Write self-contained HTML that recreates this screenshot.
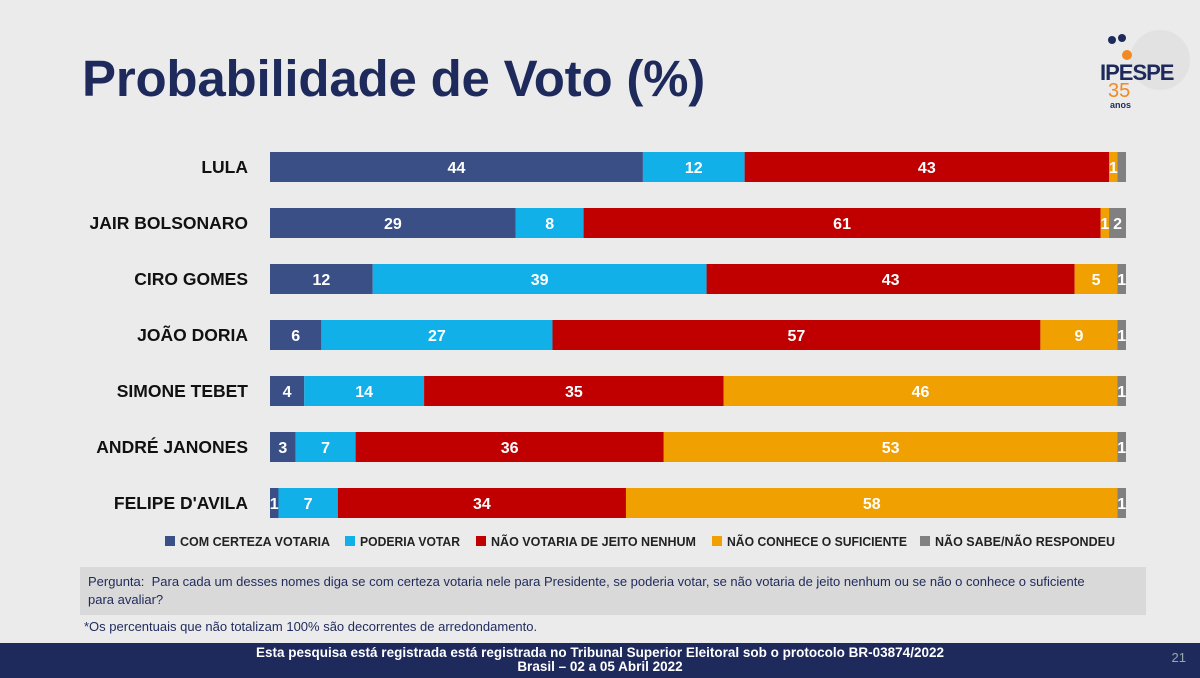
<!DOCTYPE html>
<html><head><meta charset="utf-8">
<style>
body{margin:0;width:1200px;height:675px;background:#ebebeb;font-family:"Liberation Sans",sans-serif;overflow:hidden;position:relative}
.title{position:absolute;left:82px;top:49px;font-size:51px;font-weight:bold;color:#1f2a5c;letter-spacing:-0.2px}
.q{position:absolute;left:80px;top:567px;width:1050px;height:36px;background:#d9d9d9;padding:6px 8px;font-size:13px;color:#1f2a5c;line-height:18px}
.note{position:absolute;left:84px;top:619px;font-size:13px;color:#1f2a5c}
.foot{position:absolute;left:0;top:643px;width:1200px;height:32px;background:#1f2a5c;color:#fff;text-align:center;font-weight:bold;font-size:13.5px;line-height:14px;padding-top:3px}
.pg{position:absolute;right:14px;top:650px;color:#9aa;font-size:13px}
</style></head><body>
<div class="title">Probabilidade de Voto (%)</div>
<div style="position:absolute;left:1100px;top:30px;width:90px;height:80px">
<div style="position:absolute;left:30px;top:0;width:60px;height:60px;border-radius:50%;background:#e2e2e2"></div>
<div style="position:absolute;left:22px;top:20px;width:10px;height:10px;border-radius:50%;background:#f08a24"></div>
<div style="position:absolute;left:8px;top:6px;width:8px;height:8px;border-radius:50%;background:#1f2a5c"></div>
<div style="position:absolute;left:18px;top:4px;width:8px;height:8px;border-radius:50%;background:#1f2a5c"></div>
<div style="position:absolute;left:0;top:30px;font-weight:bold;font-size:22px;color:#1f2a5c;letter-spacing:-1px">IPESPE</div>
<div style="position:absolute;left:8px;top:50px;font-size:20px;color:#f08a24">35</div>
<div style="position:absolute;left:10px;top:70px;font-size:9px;font-weight:bold;color:#1f2a5c">anos</div>
</div>
<svg id="chart" width="1200" height="560" style="position:absolute;left:0;top:0"></svg>
<div class="q">Pergunta:&nbsp; Para cada um desses nomes diga se com certeza votaria nele para Presidente, se poderia votar, se não votaria de jeito nenhum ou se não o conhece o suficiente<br>para avaliar?</div>
<div class="note">*Os percentuais que não totalizam 100% são decorrentes de arredondamento.</div>
<div class="foot">Esta pesquisa está registrada está registrada no Tribunal Superior Eleitoral sob o protocolo BR-03874/2022<br>Brasil – 02 a 05 Abril 2022</div>
<div class="pg">21</div>
<script>
const candidates=["LULA","JAIR BOLSONARO","CIRO GOMES","JOÃO DORIA","SIMONE TEBET","ANDRÉ JANONES","FELIPE D'AVILA"];
const seriesNames=["COM CERTEZA VOTARIA","PODERIA VOTAR","NÃO VOTARIA DE JEITO NENHUM","NÃO CONHECE O SUFICIENTE","NÃO SABE/NÃO RESPONDEU"];
const certeza=[44,29,12,6,4,3,1];
const poderia=[12,8,39,27,14,7,7];
const naoVotaria=[43,61,43,57,35,36,34];
const naoConhece=[1,1,5,9,46,53,58];
const naoSabe=[1,2,1,1,1,1,1];
const hideLabel=[[0,4]];
const colors=["#3b4f87","#12b0e8","#c00000","#f0a000","#808080"];
const series=[certeza,poderia,naoVotaria,naoConhece,naoSabe];
const svg=document.getElementById('chart');const NS="http://www.w3.org/2000/svg";
const x0=270,x1=1126,y0=167,step=56,bh=30;
function mk(t,a){const e=document.createElementNS(NS,t);for(const k in a)e.setAttribute(k,a[k]);svg.appendChild(e);return e;}
candidates.forEach((c,i)=>{
 const cy=y0+i*step;
 const tot=series.reduce((s,a)=>s+a[i],0);
 const sx=v=>v/tot*(x1-x0);
 const lab=mk('text',{x:248,y:cy+6,'text-anchor':'end','font-size':17.5,'font-weight':'bold',fill:'#111'});
 lab.textContent=c;
 
 
 let x=x0;
 series.forEach((a,j)=>{
  const w=sx(a[i]);
  const r=mk('rect',{x:x,y:cy-bh/2,width:w,height:bh,fill:colors[j]});
  
  
  if(!hideLabel.some(h=>h[0]==i&&h[1]==j)){
   const t=mk('text',{x:x+w/2,y:cy+6,'text-anchor':'middle','font-size':16,'font-weight':'bold',fill:'#fff'});
   t.textContent=a[i];
   
   
  }
  x+=w;
 });
});
const lx=[165,345,476,712,920];
seriesNames.forEach((n,j)=>{
 const r=mk('rect',{x:lx[j],y:536,width:10,height:10,fill:colors[j]});
 
 
 const t=mk('text',{x:lx[j]+15,y:546,'font-size':12.5,'font-weight':'bold',fill:'#222','textLength':[150,100,205,180,180][j],'lengthAdjust':'spacingAndGlyphs'});
 t.textContent=n;
 
 
});
</script>
</body></html>
